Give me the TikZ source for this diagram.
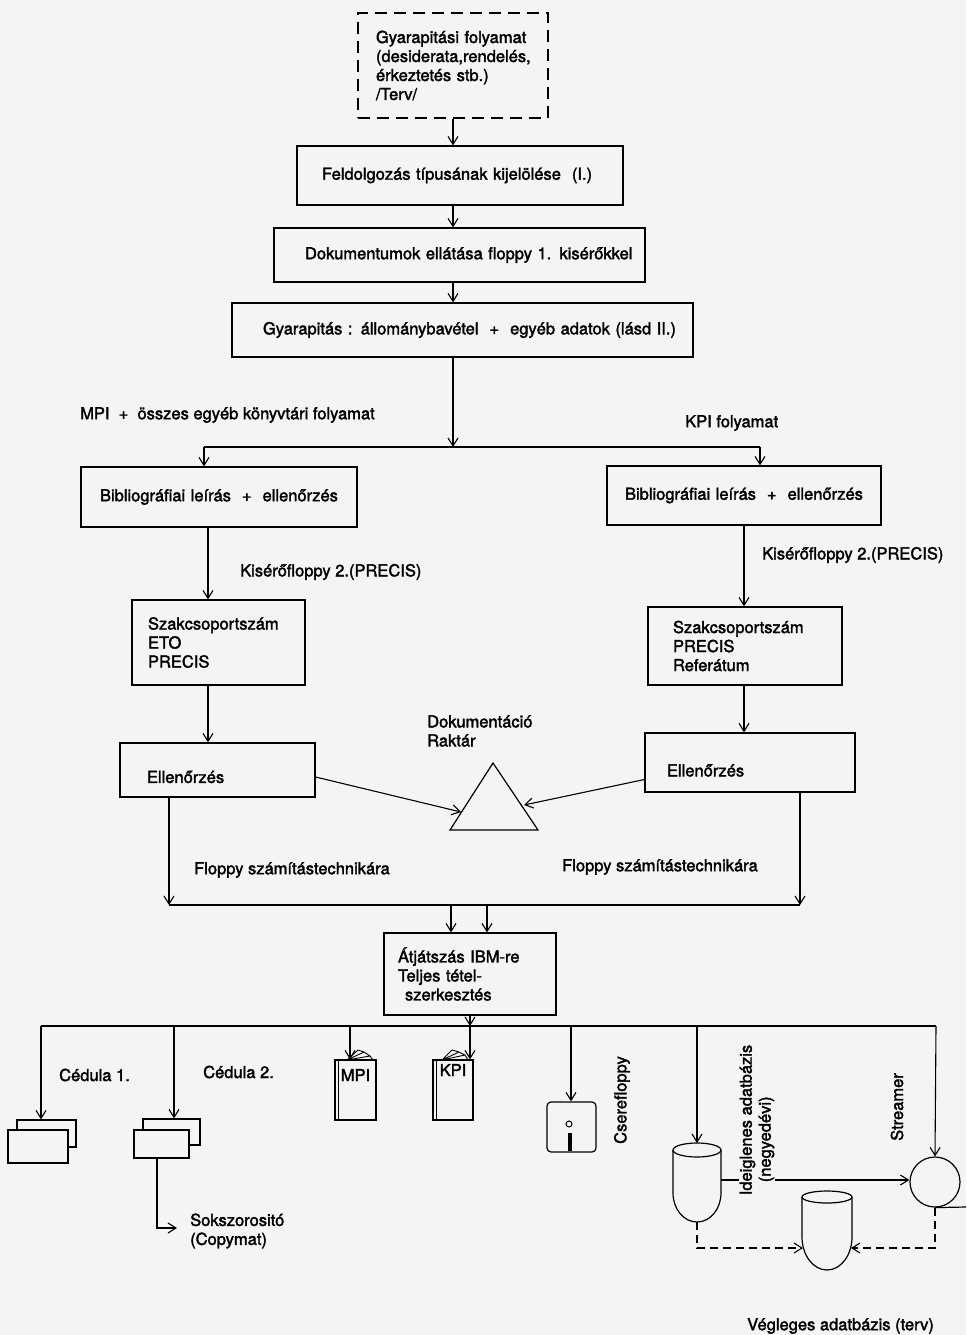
\documentclass[tikz,border=0pt]{standalone}
\usepackage{fontspec}
\setmainfont{TeX Gyre Heros}[BoldFont=TeX Gyre Heros, BoldFeatures={FakeBold=2}]
\usetikzlibrary{arrows.meta,calc}
\definecolor{bgc}{gray}{0.955}
\begin{document}
\begin{tikzpicture}[x=1pt,y=-1pt,
  font=\fontsize{16.5}{19}\selectfont\bfseries,
  bx/.style={draw, line width=1.2pt, inner sep=0pt, align=left},
  arr/.style={line width=1.1pt, -{Straight Barb[length=8pt,width=10pt]}},
  ln/.style={line width=1.1pt},
  dsh/.style={dash pattern=on 8pt off 5pt},
  lbl/.style={inner sep=0pt, anchor=west},
  card/.style={draw, line width=1.2pt, fill=bgc, inner sep=0pt},
  book/.style={draw, line width=1.2pt, fill=bgc, inner sep=0pt},
  shp/.style={line width=1.2pt}]
\useasboundingbox (0,0) rectangle (966,1335);
\fill[bgc] (0,0) rectangle (966,1335);

% ---- main column boxes
\node[bx, dash pattern=on 12pt off 7pt, text width=190pt, minimum height=105pt] (gy) at (453,65.5)
  {\hspace*{18pt}Gyarapitási folyamat\\\hspace*{18pt}(desiderata,rendelés,\\\hspace*{18pt}érkeztetés stb.)\\\hspace*{18pt}/Terv/};
\node[bx, text width=326pt, minimum height=59pt] (feld) at (460,175.5)
  {\hspace*{25pt}Feldolgozás típusának kijelölése\ \ (I.)};
\node[bx, text width=371pt, minimum height=54pt] (dok) at (459.5,255)
  {\hspace*{31pt}Dokumentumok ellátása floppy 1. kisérőkkel};
\node[bx, text width=461pt, minimum height=54pt] (gyar) at (462.5,330)
  {\hspace*{31pt}Gyarapitás : állománybavétel\ \ +\ \ egyéb adatok (lásd II.)};

\node[bx, align=center, text width=276pt, minimum height=60pt] (bibL) at (219,497)
  {Bibliográfiai leírás\ \ +\ \ ellenőrzés};
\node[bx, align=center, text width=274pt, minimum height=59pt] (bibR) at (744,495.5)
  {Bibliográfiai leírás\ \ +\ \ ellenőrzés};

\node[bx, text width=173pt, minimum height=85pt] (szL) at (218.5,642.5)
  {\hspace*{16pt}Szakcsoportszám\\\hspace*{16pt}ETO\\\hspace*{16pt}PRECIS};
\node[bx, text width=194pt, minimum height=78pt] (szR) at (745,646)
  {\hspace*{25pt}Szakcsoportszám\\\hspace*{25pt}PRECIS\\\hspace*{25pt}Referátum};

\node[bx, text width=195pt, minimum height=54pt] (ellL) at (217.5,770)
  {\hspace*{27pt}\raisebox{-7pt}[\height][\depth]{Ellenőrzés}};
\node[bx, text width=210pt, minimum height=59pt] (ellR) at (750,762.5)
  {\hspace*{22pt}\raisebox{-8pt}[\height][\depth]{Ellenőrzés}};

\node[bx, text width=172pt, minimum height=82pt] (atj) at (470,974)
  {\hspace*{14pt}Átjátszás IBM-re\\\hspace*{14pt}Teljes tétel-\\\hspace*{21pt}szerkesztés};

% ---- top connectors
\coordinate (cx) at (453,0);
\draw[arr] (gy.south) -- (gy.south |- feld.north);
\draw[arr] (cx |- feld.south) -- (cx |- dok.north);
\draw[arr] (cx |- dok.south) -- (cx |- gyar.north);
\coordinate (j1) at (453,447);
\coordinate (jL) at (204,447);
\coordinate (jR) at (760,447);
\draw[arr] (cx |- gyar.south) -- (j1);
\draw[ln] (jL) -- (jR);
\draw[arr] (jL) -- (jL |- bibL.north);
\draw[arr] (jR) -- (jR |- bibR.north);

\coordinate (cl) at (208,0);
\draw[arr] (cl |- bibL.south) -- (cl |- szL.north);
\draw[arr] (bibR.south) -- (bibR.south |- szR.north);
\draw[arr] (cl |- szL.south) -- (cl |- ellL.north);
\draw[arr] (bibR.south |- szR.south) -- (bibR.south |- ellR.north);

% ---- Dokumentacio raktar triangle
\coordinate (tL) at (450,830);
\coordinate (tT) at (493,763);
\coordinate (tR) at (538,830);
\draw[shp] (tL) -- (tT) -- (tR) -- cycle;
\coordinate (tLs) at (461,812);
\coordinate (tRs) at (524,805);
\draw[arr] ($(ellL.east)+(0,7)$) -- (tLs);
\draw[arr] ($(ellR.west)+(0,17)$) -- (tRs);

% ---- floppy to computing
\coordinate (fL) at (169,905);
\coordinate (fR) at (800,905);
\draw[ln] (fL) -- (fR);
\draw[arr] (fL |- ellL.south) -- (fL);
\draw[arr] (fR |- ellR.south) -- (fR);
\coordinate (a1) at (451,905);
\coordinate (a2) at (487,905);
\draw[arr] (a1) -- (a1 |- atj.north);
\draw[arr] (a2) -- (a2 |- atj.north);

% ---- bottom distribution line
\coordinate (b0) at (41,1026);
\coordinate (b1) at (174,1026);
\coordinate (b2) at (350,1026);
\coordinate (b3) at (470,1026);
\coordinate (b4) at (571,1026);
\coordinate (b5) at (697,1026);
\coordinate (b6) at (936,1026);
\draw[ln] (b0) -- (b6);
\draw[arr] (atj.south) -- (b3);

% cards
\node[card, minimum width=59pt, minimum height=27pt] (c1b) at (46.5,1133.5) {};
\node[card, minimum width=60pt, minimum height=33pt] (c1f) at (38,1146.5) {};
\node[card, minimum width=57pt, minimum height=26pt] (c2b) at (171.5,1132) {};
\node[card, minimum width=55pt, minimum height=28pt] (c2f) at (161.5,1144) {};
\draw[arr] (b0) -- (b0 |- c1b.north);
\draw[arr] (b1) -- (b1 |- c2b.north);
\coordinate (sk) at (157,1228);
\coordinate (skE) at (177,1228);
\draw[arr] (sk |- c2f.south) -- (sk) -- (skE);

% books
\node[book, minimum width=41pt, minimum height=60pt] (mpi) at (355.5,1090)
  {\raisebox{15pt}[\height][\depth]{MPI}};
\draw[line width=1pt] ($(mpi.north west)+(4,0)$) -- ($(mpi.south west)+(4,0)$);
\draw[line width=0.9pt] (347,1060) -- (358,1050) -- (364,1052) -- (370,1056) -- (373,1060)
  (347,1060) -- (364,1052) (347,1060) -- (370,1056);
\node[book, minimum width=40pt, minimum height=60pt] (kpi) at (453,1090)
  {\raisebox{20pt}[\height][\depth]{KPI}};
\draw[line width=1pt] ($(kpi.north west)+(4,0)$) -- ($(kpi.south west)+(4,0)$);
\draw[line width=0.9pt] (442,1060) -- (452,1050) -- (459,1052) -- (465,1055) -- (468,1060)
  (442,1060) -- (459,1052) (442,1060) -- (465,1055);
\draw[arr] (b2) -- (b2 |- mpi.north);
\draw[arr] (b3) -- (b3 |- kpi.north);

% exchange floppy
\node[draw, line width=1.2pt, rounded corners=4pt, minimum width=49pt, minimum height=50pt, inner sep=0pt] (cs) at (571.5,1127) {};
\draw[line width=1pt] (569,1124) circle (3pt);
\draw[line width=4pt] (570,1133) -- (570,1151);
\draw[arr] (b4) -- (b4 |- cs.north);

% temporary database
\coordinate (idTop) at (697,1143);
\coordinate (idB) at (697,1222);
\coordinate (idR) at (721,1180);
\draw[shp] (673,1150) -- (673,1193) arc[start angle=180, end angle=360, x radius=24pt, y radius=29pt] -- (721,1150);
\draw[shp] (697,1150) ellipse [x radius=24pt, y radius=7pt];
\draw[arr] (b5) -- (idTop);

% final database
\draw[shp] (802,1197) -- (802,1237) arc[start angle=180, end angle=360, x radius=25pt, y radius=33pt] -- (852,1197);
\draw[shp] (827,1197) ellipse [x radius=25pt, y radius=6pt];
\coordinate (vL) at (803,1248);
\coordinate (vR) at (851,1248);

% streamer
\node[draw, circle, line width=1.2pt, minimum size=50pt, inner sep=0pt] (str) at (935,1182) {};
\coordinate (tapeEnd) at (966,1207);
\draw[shp] (str.south) -- (tapeEnd);
\draw[arr] (b6) -- (str.north);
\draw[arr] (idR) -- (str.west |- idR);

\draw[arr, dsh] (idB) |- (vL);
\draw[arr, dsh] (str.south) |- (vR);

% ---- labels
\node[lbl] (lmpi) at (80,415) {MPI\ \ +\ \ összes egyéb könyvtári folyamat};
\node[lbl] (lkpi) at (685,423) {KPI folyamat};
\node[lbl] (lk2L) at (240,572) {Kisérőfloppy 2.(PRECIS)};
\node[lbl] (lk2R) at (762,555) {Kisérőfloppy 2.(PRECIS)};
\node[lbl] (lfL) at (194,870) {Floppy számítástechnikára};
\node[lbl] (lfR) at (562,867) {Floppy számítástechnikára};
\node[lbl, align=left] (ldok) at (427,731) {Dokumentáció\\Raktár};
\node[lbl] (lc1) at (59,1075) {Cédula 1.};
\node[lbl] (lc2) at (203,1072) {Cédula 2.};
\node[lbl, align=left] (lsok) at (190,1231) {Sokszorositó\\(Copymat)};
\node[lbl] (lveg) at (747,1326) {Végleges adatbázis (terv)};
\node[rotate=90, inner sep=0pt] (lcs) at (622,1100) {Cserefloppy};
\node[rotate=90, inner sep=0pt] (lstr) at (897,1107) {Streamer};
\node[rotate=90, inner sep=1pt, fill=bgc, align=left] (lid) at (757,1120)
  {Ideiglenes adatbázis\\\hspace*{13pt}(negyedévi)};
\end{tikzpicture}
\end{document}
